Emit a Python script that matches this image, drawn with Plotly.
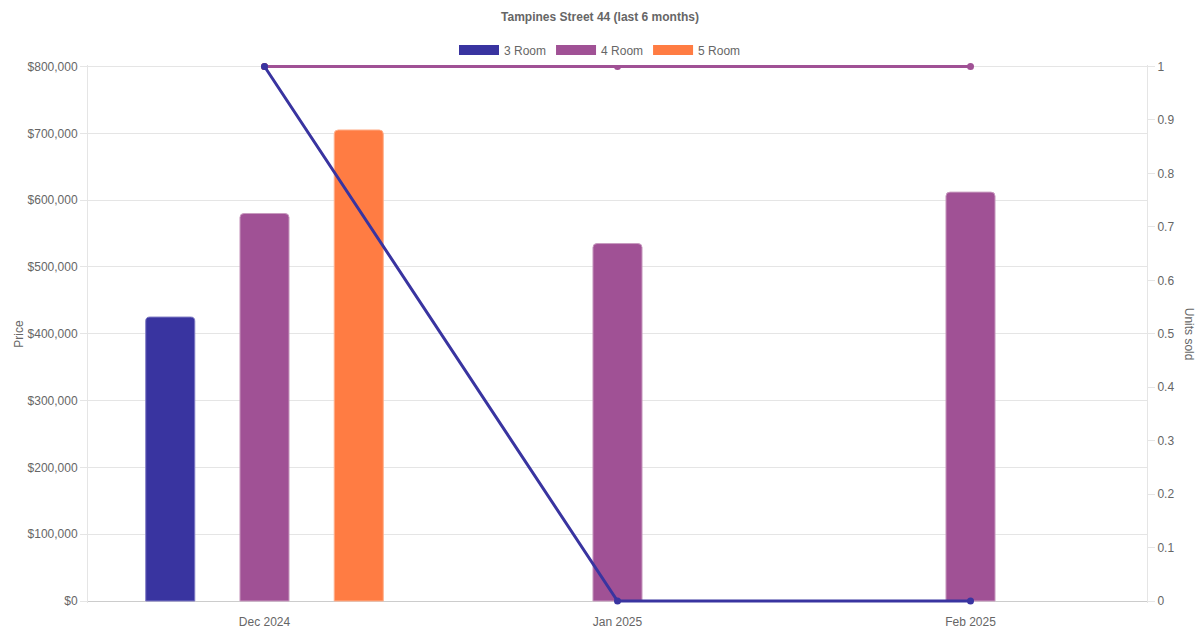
import plotly.graph_objects as go

# data
months = ["Dec 2024", "Jan 2025", "Feb 2025"]
rooms = ["3 Room", "4 Room", "5 Room"]
price_3 = [425000, None, None]
price_4 = [580000, 535000, 612000]
price_5 = [705000, None, None]
units_3 = [1, 0, 0]
units_4 = [1, 1, 1]
units_5 = [1, None, None]

colors = {"3 Room": "#3934A0", "4 Room": "#A05195", "5 Room": "#FF7C43"}
edges = {"3 Room": "#7f7bc4", "4 Room": "#c89bbf", "5 Room": "#ffb08c"}
prices = {"3 Room": price_3, "4 Room": price_4, "5 Room": price_5}
units = {"3 Room": units_3, "4 Room": units_4, "5 Room": units_5}

font = "Liberation Sans, Arial, sans-serif"
grey = "#666666"

# small padding so lines at 0 and 1 are not cut by the plot clip
pad = 2 / 535

fig = go.Figure()

# bars, placed like chart.js grouped bars (3 slots per category)
bar_w = 0.139
centers = {"3 Room": -0.267, "4 Room": 0.0, "5 Room": 0.267}
for r in rooms:
    fig.add_trace(go.Bar(
        x=months, y=prices[r], name=r, legendgroup=r, showlegend=False,
        width=bar_w, offset=centers[r] - bar_w / 2,
        marker=dict(color=colors[r], line=dict(color=edges[r], width=1)),
        yaxis="y"))

# unit lines on right axis, 3 Room drawn last so it sits on top
for r in ["5 Room", "4 Room", "3 Room"]:
    fig.add_trace(go.Scatter(
        x=months, y=units[r], name=r, legendgroup=r, showlegend=False,
        mode="lines+markers", line=dict(color=colors[r], width=3),
        marker=dict(color=colors[r], size=7), cliponaxis=False,
        yaxis="y2"))

# legend entries as wide boxes
for r in rooms:
    fig.add_trace(go.Scatter(
        x=[None], y=[None], name=r, legendgroup=r, mode="lines",
        line=dict(color=colors[r], width=12), yaxis="y2"))

fig.update_layout(
    width=1200, height=630,
    margin=dict(l=88, r=53, t=64, b=27),
    paper_bgcolor="white", plot_bgcolor="white",
    font=dict(family=font, size=12, color=grey),
    barmode="overlay", barcornerradius=4,
    title=dict(text="<b>Tampines Street 44 (last 6 months)</b>",
               x=0.5, xanchor="center", y=0.973, yanchor="middle",
               font=dict(size=12, color=grey)),
    legend=dict(orientation="h", xref="container", x=0.5, xanchor="center",
                yref="container", y=1 - 50 / 630, yanchor="middle",
                itemwidth=40, font=dict(size=12, color=grey),
                traceorder="normal"),
    showlegend=True,
    xaxis=dict(type="category", range=[-0.5, 2.5], showgrid=False,
               showline=False, ticks="outside", ticklen=8,
               tickcolor="rgba(0,0,0,0)", automargin=False,
               tickfont=dict(size=12, color=grey), zeroline=False),
    yaxis=dict(range=[-800000 * pad, 800000 * (1 + pad)], dtick=100000,
               tick0=0, tickprefix="$", automargin=False,
               tickformat=",", showgrid=True, gridcolor="#e5e5e5",
               showline=True, linecolor="#e5e5e5", ticks="outside",
               ticklen=7, tickcolor="#e5e5e5",
               zeroline=True, zerolinecolor="#cccccc", zerolinewidth=1,
               tickfont=dict(size=12, color=grey)),
    yaxis2=dict(range=[-pad, 1 + pad], dtick=0.1, tick0=0, overlaying="y",
                side="right", showgrid=False, showline=True,
                linecolor="#e5e5e5", ticks="outside", ticklen=7,
                automargin=False, tickcolor="#e5e5e5", zeroline=False,
                tickfont=dict(size=12, color=grey)),
    annotations=[
        dict(text="Units sold", xref="paper", yref="paper",
             x=1.0, xshift=51, y=0.5, textangle=90,
             showarrow=False, font=dict(size=12, color=grey)),
        dict(text="Price", xref="paper", yref="paper",
             x=0.0, xshift=-78, y=0.5, textangle=-90,
             showarrow=False, font=dict(size=12, color=grey)),
    ],
)

fig.write_html("out.html", config={"displayModeBar": False},
               post_script="document.body.style.margin='0';")
